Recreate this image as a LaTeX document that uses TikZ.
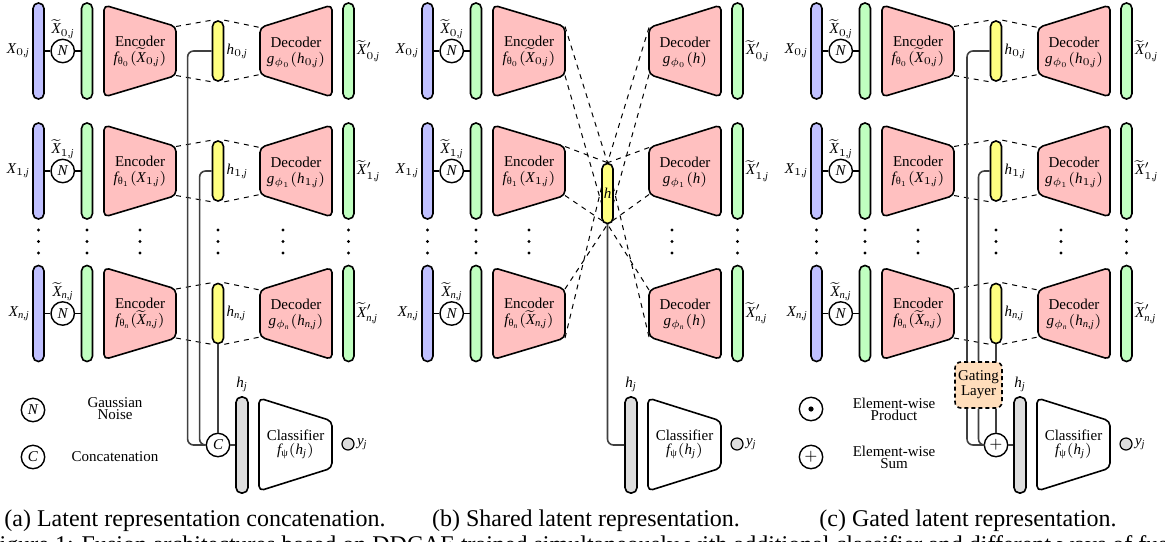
\RequirePackage{fix-cm}
\documentclass[tikz,border=0pt]{standalone}
\usepackage{amsmath}
\usepackage{fontspec}
\setmainfont{Liberation Serif}

% Times-like letters and digits in formulas
\DeclareSymbolFont{tuit}{TU}{\rmdefault}{m}{it}
\DeclareSymbolFont{turm}{TU}{\rmdefault}{m}{n}
\DeclareMathSymbol{X}{\mathalpha}{tuit}{`X}
\DeclareMathSymbol{N}{\mathalpha}{tuit}{`N}
\DeclareMathSymbol{C}{\mathalpha}{tuit}{`C}
\DeclareMathSymbol{h}{\mathalpha}{tuit}{`h}
\DeclareMathSymbol{f}{\mathalpha}{tuit}{`f}
\DeclareMathSymbol{g}{\mathalpha}{tuit}{`g}
\DeclareMathSymbol{j}{\mathalpha}{tuit}{`j}
\DeclareMathSymbol{y}{\mathalpha}{tuit}{`y}
\DeclareMathSymbol{n}{\mathalpha}{tuit}{`n}
\DeclareMathSymbol{0}{\mathalpha}{turm}{`0}
\DeclareMathSymbol{1}{\mathalpha}{turm}{`1}
\DeclareMathSymbol{,}{\mathpunct}{turm}{`,}
\DeclareMathSymbol{(}{\mathopen}{turm}{`(}
\DeclareMathSymbol{)}{\mathclose}{turm}{`)}
\DeclareMathSymbol{+}{\mathbin}{turm}{`+}
\DeclareMathSizes{7.5}{7.5}{5.25}{3.75}

\definecolor{inblue}{HTML}{C0C0FF}
\definecolor{codegreen}{HTML}{C0FFC0}
\definecolor{netred}{HTML}{FFC0C0}
\definecolor{latyellow}{HTML}{FFFF80}
\definecolor{fusegray}{HTML}{DDDDDD}
\definecolor{gatepeach}{HTML}{FFDDBB}

\pgfdeclarelayer{under}
\pgfsetlayers{under,main}

\tikzset{
  vbar/.style={draw, line width=0.8pt, rounded corners=2.7pt, minimum width=5.5pt,
               minimum height=48pt, inner sep=0pt},
  lat/.style={vbar, fill=latyellow, minimum height=30pt},
  op/.style={draw, circle, line width=0.7pt, minimum size=11.7pt, inner sep=0pt, fill=white},
  net/.style={draw, line width=0.8pt, rounded corners=2.5pt, line join=round},
  netlabel/.style={align=center, inner sep=0pt, font=\fontsize{7.5}{8}\selectfont},
  legtext/.style={align=center, inner sep=0pt, font=\fontsize{7.5}{6}\selectfont},
  link/.style={line width=0.8pt},
  wire/.style={line width=0.8pt, draw=black!75, rounded corners=3pt},
  proj/.style={line width=0.5pt, dash pattern=on 2.5pt off 2.5pt},
  gate/.style={draw, line width=0.8pt, dash pattern=on 2pt off 1.5pt, rounded corners=3pt,
               fill=gatepeach, minimum width=23.5pt, minimum height=23pt, inner sep=0pt,
               align=center, font=\fontsize{7.5}{7.5}\selectfont},
  captext/.style={inner sep=0pt, font=\fontsize{12}{14}\selectfont},
  tag/.style={inner sep=1pt, font=\fontsize{7.5}{8}\selectfont},
}

\newcommand{\upg}[1]{\text{#1}}

% encoder trapezoid: name, left x, centre y, argument
\newcommand{\encoder}[4]{%
  \draw[net, fill=netred] (#2,#3-46) -- (#2+72,#3-24.5) -- (#2+72,#3+24.5) -- (#2,#3+46) -- cycle;
  \coordinate (#1-tr) at (#2+72,#3-24.5);
  \coordinate (#1-br) at (#2+72,#3+24.5);
  \node[netlabel] (#1) at (#2+36,#3) {Encoder\\$#4$};
}

% decoder trapezoid: name, left x, centre y, argument
\newcommand{\decoder}[4]{%
  \draw[net, fill=netred] (#2,#3-23.5) -- (#2+72,#3-46) -- (#2+72,#3+46) -- (#2,#3+23.5) -- cycle;
  \coordinate (#1-tl) at (#2,#3-23.5);
  \coordinate (#1-bl) at (#2,#3+23.5);
  \node[netlabel] (#1) at (#2+36,#3+1) {Decoder\\$#4$};
}

% inputs, noise, autoencoders, outputs and classifier of one scheme
\newcommand{\panelbase}[3]{% #1 x offset, #2 prefix, #3 decoder input
  \foreach \r/\yy/\ex in {0/51/{\widetilde{X}_{0,j}}, 1/171/{X_{1,j}}, n/313.5/{\widetilde{X}_{n,j}}}{%
    \node[vbar, fill=inblue] (#2x\r) at (#1+38.5,\yy) {};
    \node[op] (#2n\r) at (#1+62.7,\yy) {$N$};
    \node[vbar, fill=codegreen] (#2g\r) at (#1+87,\yy) {};
    \draw[link] (#2x\r) -- (#2n\r) -- (#2g\r);
    \node[tag, anchor=east] (#2lx\r) at (#2x\r.west) {$X_{\r,j}$};
    \node[tag] (#2lt\r) at (#1+63,\yy-22) {$\widetilde{X}_{\r,j}$};
    \encoder{#2e\r}{#1+104}{\yy}{f_{\upg{θ}_{\r}}(\ex)}
    \decoder{#2d\r}{#1+260}{\yy}{g_{\phi_{\r}}(#3)}
    \node[vbar, fill=codegreen] (#2o\r) at (#1+348.5,\yy) {};
    \node[tag, anchor=west] (#2lo\r) at (#2o\r.east) {$\widetilde{X}'_{\r,j}$};
  }
  \foreach \xx in {38.5,87,140,283,348.5}{%
    \foreach \dy in {230,241.5,253} \fill (#1+\xx,\dy) circle (0.8pt);
  }
  \node[vbar, fill=fusegray, minimum width=6pt] (#2hj) at (#1+242,445) {};
  \node[tag] (#2hjl) at (#1+242,384) {$h_j$};
  \draw[net] (#1+259,398) -- (#1+332,421) -- (#1+332,468) -- (#1+259,491) -- cycle;
  \node[netlabel] (#2cl) at (#1+295.5,444) {Classifier\\[-1pt]$f_{\upg{ψ}}(h_j)$};
  \node[draw, circle, fill=fusegray, minimum size=6pt, inner sep=0pt, line width=0.6pt] (#2y) at (#1+348,444) {};
  \node[tag, anchor=west] (#2yl) at (#2y.east) {$y_j$};
}

% one latent code per modality
\newcommand{\rowlatents}[2]{% #1 x offset, #2 prefix
  \foreach \r/\yy in {0/51,1/171,n/313.5}{%
    \node[lat] (#2h\r) at (#1+218,\yy) {};
    \node[tag, anchor=west] (#2lh\r) at (#2h\r.east) {$h_{\r,j}$};
    \draw[proj] (#2e\r-tr) -- (#2h\r.north west) (#2h\r.north east) -- (#2d\r-tl);
    \draw[proj] (#2e\r-br) -- (#2h\r.south west) (#2h\r.south east) -- (#2d\r-bl);
  }
  \foreach \dy in {230,241.5,253} \fill (#1+218,\dy) circle (0.8pt);
}

\begin{document}
\begin{tikzpicture}[x=0.5pt, y=-0.5pt, every node/.style={font=\fontsize{7.5}{8}\selectfont}]
\useasboundingbox (0,0) rectangle (1165,541);
\clip (0,0) rectangle (1165,541);
\begin{pgfonlayer}{under}
  \fill[white] (0,0) rectangle (1165,541);
\end{pgfonlayer}

% ---------- (a) concatenation ----------
\panelbase{0}{a}{h_{\r,j}}
\rowlatents{0}{a}
\node[op] (aC) at (218,445) {$C$};
\draw[wire] (ah0.west) -| ([xshift=-9pt]aC.west) -- (aC.west);
\draw[wire] (ah1.west) -| ([xshift=-3pt]aC.west) -- (aC.west);
\draw[wire] (ahn.south) -- (aC.north);
\draw[wire] (aC.east) -- (ahj.west);

\node[op] (lgN) at (33,410) {$N$};
\node[legtext] (lgNt) at (115,409) {Gaussian\\Noise};
\node[op] (lgC) at (33,457) {$C$};
\node[legtext] (lgCt) at (115,457) {Concatenation};

% ---------- (b) shared code ----------
\panelbase{389}{b}{h}
\node[lat] (bh) at (607.5,193.5) {$h$};
\begin{pgfonlayer}{under}
  \foreach \r/\t/\b in {0/north/south, 1/north/south, n/south/north}{%
    \draw[proj] (be\r-tr) -- (bh.\t) (be\r-br) -- (bh.\b);
    \draw[proj] (bd\r-tl) -- (bh.\t) (bd\r-bl) -- (bh.\b);
  }
\end{pgfonlayer}
\draw[wire] (bh.south) |- (bhj.west);

% ---------- (c) gated fusion ----------
\panelbase{778}{c}{h_{\r,j}}
\rowlatents{778}{c}
\node[gate] (cgate) at (978.5,385) {Gating\\Layer};
\node[op] (cS) at (996,445) {$+$};
\draw[wire] (ch0.west) -| ([xshift=-5.75pt]cgate.north);
\draw[wire] (ch1.west) -| (cgate.north);
\draw[wire] (chn.south) -- (chn.south |- cgate.north);
\draw[wire] ([xshift=-5.75pt]cgate.south) |- (cS.west);
\draw[wire] (cgate.south) |- (cS.west);
\draw[wire] (cS.north |- cgate.south) -- (cS.north);
\draw[wire] (cS.east) -- (chj.west);

\node[op] (lgP) at (811,409) {};
\fill (lgP) circle (1.3pt);
\node[legtext] (lgPt) at (894,409) {Element-wise\\Product};
\node[op] (lgS) at (811,457) {$+$};
\node[legtext] (lgSt) at (894,457) {Element-wise\\Sum};

% ---------- captions ----------
\node[captext, anchor=base] (capa) at (195,526) {(a) Latent representation concatenation.};
\node[captext, anchor=base] (capb) at (586,526) {(b) Shared latent representation.};
\node[captext, anchor=base] (capc) at (968,526) {(c) Gated latent representation.};
\node[captext, anchor=base west] (capfig) at (-14,552) {Figure 1: Fusion architectures based on DDCAE trained simultaneously with additional classifier and different ways of fusing the};
\end{tikzpicture}
\end{document}
